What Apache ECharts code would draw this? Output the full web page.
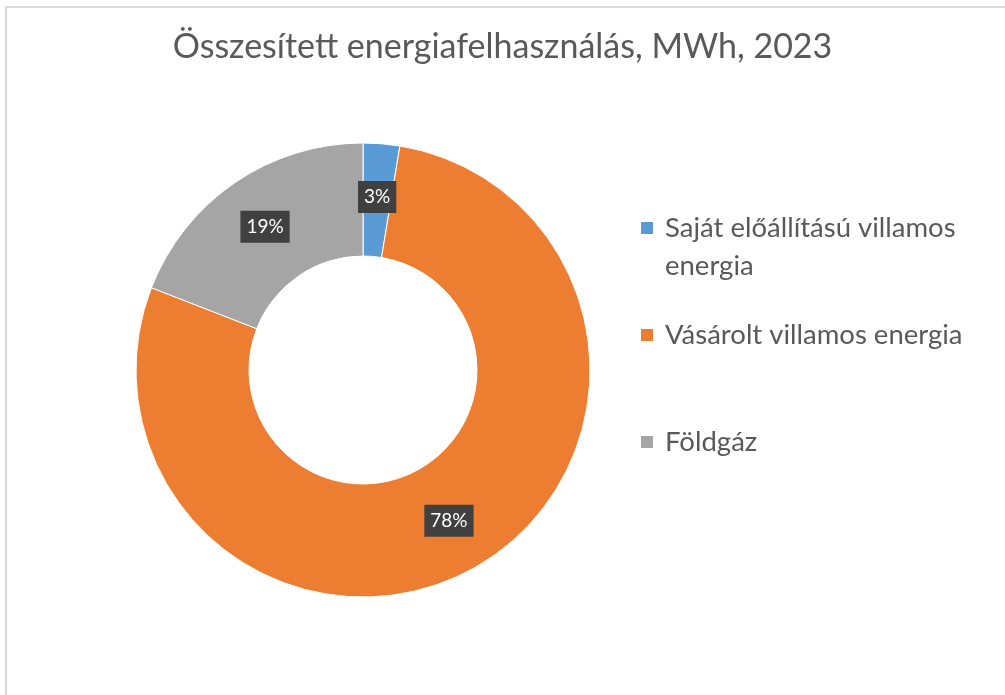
<!DOCTYPE html>
<html>
<head>
<meta charset="utf-8">
<script src="https://cdn.jsdelivr.net/npm/echarts@6/dist/echarts.min.js"></script>
<style>
html,body{margin:0;padding:0;background:#fff;}
#chart{width:1005px;height:695px;}
</style>
</head>
<body>
<div id="chart"></div>
<script>
const titleText = 'Összesített energiafelhasználás, MWh, 2023';
const categories = ['Saját előállítású villamos energia', 'Vásárolt villamos energia', 'Földgáz'];
const values = [2.6, 78.3, 19.1];
const colors = ['#5B9BD5', '#ED7D31', '#A5A5A5'];

const FONT = 'Lato';
const chart = echarts.init(document.getElementById('chart'), null, {renderer: 'canvas'});

const legendTops = [166, 311, 418];
const legends = categories.map((c, i) => ({
  data: [c],
  left: 634,
  top: legendTops[i],
  orient: 'vertical',
  icon: 'rect',
  itemWidth: 14,
  itemHeight: 14,
  selectedMode: false,
  formatter: function (name) {
    if (name === categories[0]) return ' \nSaját előállítású villamos\nenergia';
    return name;
  },
  textStyle: {
    fontFamily: FONT,
    fontSize: 27.5,
    color: '#595959',
    lineHeight: 38,
    padding: [0, 0, 0, 6]
  }
}));

chart.setOption({
  animation: false,
  title: {
    text: titleText,
    left: 'center',
    top: 25,
    textStyle: {fontFamily: FONT, fontSize: 34, fontWeight: 'normal', color: '#595959'}
  },
  legend: legends,
  graphic: [{
    type: 'rect',
    shape: {x: 6, y: 7, width: 1010, height: 700},
    style: {fill: 'none', stroke: '#d9d9d9', lineWidth: 2},
    silent: true
  }],
  series: [{
    type: 'pie',
    center: [363, 370],
    radius: [114, 227],
    startAngle: 90,
    clockwise: true,
    avoidLabelOverlap: false,
    emphasis: {disabled: true},
    itemStyle: {borderColor: '#ffffff', borderWidth: 1},
    label: {
      show: true,
      position: 'inside',
      formatter: function (p) { return Math.round(p.percent) + '%'; },
      fontFamily: FONT,
      fontSize: 19,
      color: '#ffffff',
      backgroundColor: '#404040',
      padding: [7, 6, 6, 6]
    },
    labelLine: {show: false},
    data: categories.map((c, i) => ({name: c, value: values[i], itemStyle: {color: colors[i]}}))
  }]
});
</script>
</body>
</html>
